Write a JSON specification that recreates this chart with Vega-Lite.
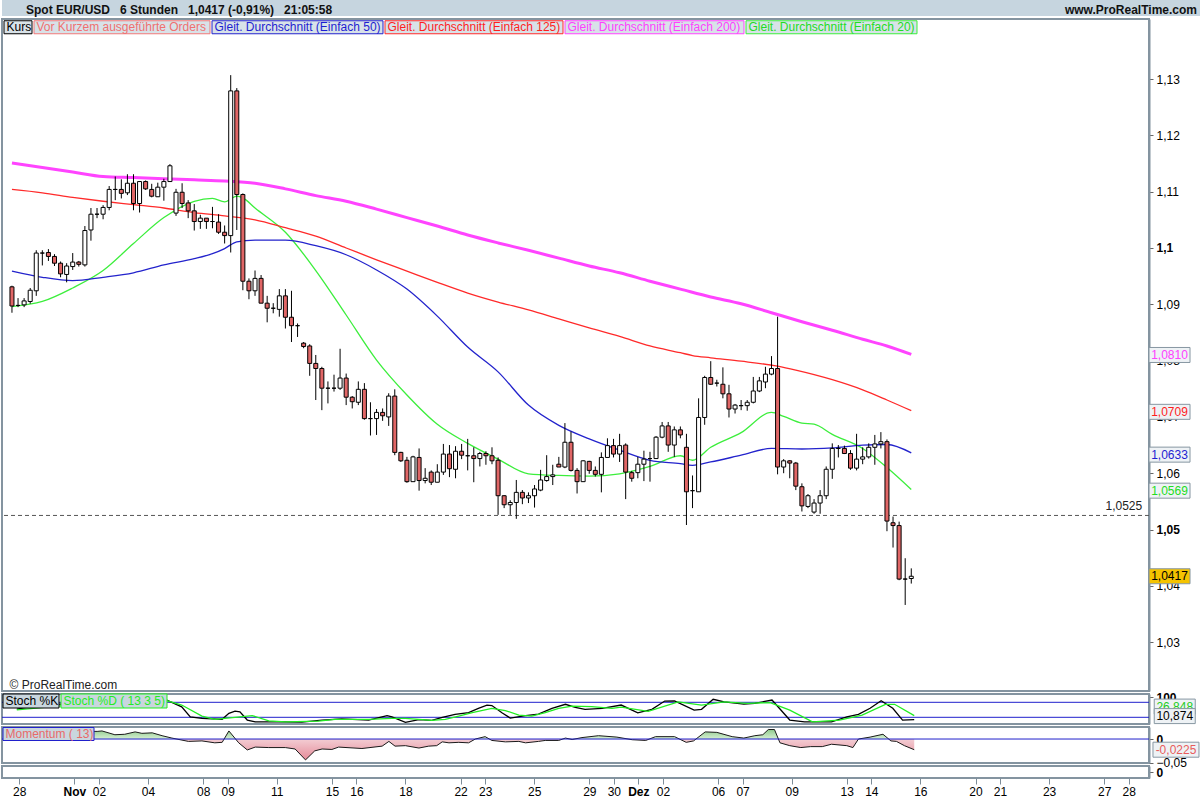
{
  "$schema": "https://vega.github.io/schema/vega-lite/v6.json",
  "padding": 0,
  "background": "white",
  "spacing": 3,
  "bounds": "flush",
  "resolve": {"scale": {"x": "independent", "y": "independent", "color": "independent", "fill": "independent"}, "legend": {"color": "independent"}, "axis": {"x": "independent", "y": "independent"}},
  "config": {
    "font": "Liberation Sans",
    "axis": {"labelFont": "Liberation Sans", "labelFontSize": 12, "labelColor": "#000000", "grid": false, "domainColor": "#8494a0", "domainWidth": 2, "tickColor": "#666666", "tickSize": 4, "labelPadding": 3, "labelOverlap": false, "labelFlush": false},
    "legend": {"labelFont": "Liberation Sans"}
  },
  "datasets": {
    "title": [
      {"side": "l", "t": "Spot EUR/USD\u00a0\u00a0 6 Stunden\u00a0\u00a0 1,0417 (-0,91%)\u00a0\u00a0 21:05:58"},
      {"side": "r", "t": "www.ProRealTime.com"}
    ],
    "candles": [
      {"i":0,"o":1.0931,"h":1.0933,"l":1.0885,"c":1.0897},
      {"i":1,"o":1.0898,"h":1.0911,"l":1.0895,"c":1.0898},
      {"i":2,"o":1.0899,"h":1.0911,"l":1.0895,"c":1.0906},
      {"i":3,"o":1.0905,"h":1.0929,"l":1.0901,"c":1.0925},
      {"i":4,"o":1.0924,"h":1.0996,"l":1.0915,"c":1.0991},
      {"i":5,"o":1.0991,"h":1.0996,"l":1.0969,"c":1.0991},
      {"i":6,"o":1.0992,"h":1.0998,"l":1.0977,"c":1.0985},
      {"i":7,"o":1.0985,"h":1.0989,"l":1.0968,"c":1.0973},
      {"i":8,"o":1.0973,"h":1.0976,"l":1.0948,"c":1.0954},
      {"i":9,"o":1.0953,"h":1.0973,"l":1.0939,"c":1.0968},
      {"i":10,"o":1.0967,"h":1.0991,"l":1.0961,"c":1.0975},
      {"i":11,"o":1.0975,"h":1.0977,"l":1.0967,"c":1.0971},
      {"i":12,"o":1.0970,"h":1.1039,"l":1.0967,"c":1.1031},
      {"i":13,"o":1.1032,"h":1.1071,"l":1.1013,"c":1.1060},
      {"i":14,"o":1.1060,"h":1.1071,"l":1.1053,"c":1.1060},
      {"i":15,"o":1.1060,"h":1.1076,"l":1.1051,"c":1.1072},
      {"i":16,"o":1.1072,"h":1.1110,"l":1.1067,"c":1.1104},
      {"i":17,"o":1.1104,"h":1.1127,"l":1.1085,"c":1.1104},
      {"i":18,"o":1.1104,"h":1.1122,"l":1.1088,"c":1.1097},
      {"i":19,"o":1.1098,"h":1.1131,"l":1.1094,"c":1.1115},
      {"i":20,"o":1.1115,"h":1.1131,"l":1.1067,"c":1.1079},
      {"i":21,"o":1.1079,"h":1.1118,"l":1.1063,"c":1.1118},
      {"i":22,"o":1.1118,"h":1.1120,"l":1.1103,"c":1.1105},
      {"i":23,"o":1.1104,"h":1.1114,"l":1.1090,"c":1.1092},
      {"i":24,"o":1.1091,"h":1.1116,"l":1.1091,"c":1.1108},
      {"i":25,"o":1.1108,"h":1.1123,"l":1.1084,"c":1.1118},
      {"i":26,"o":1.1118,"h":1.1149,"l":1.1118,"c":1.1146},
      {"i":27,"o":1.1062,"h":1.1105,"l":1.1057,"c":1.1099},
      {"i":28,"o":1.1099,"h":1.1115,"l":1.1071,"c":1.1079},
      {"i":29,"o":1.1080,"h":1.1085,"l":1.1053,"c":1.1066},
      {"i":30,"o":1.1066,"h":1.1078,"l":1.1031,"c":1.1047},
      {"i":31,"o":1.1047,"h":1.1059,"l":1.1034,"c":1.1053},
      {"i":32,"o":1.1053,"h":1.1053,"l":1.1034,"c":1.1047},
      {"i":33,"o":1.1047,"h":1.1073,"l":1.1035,"c":1.1047},
      {"i":34,"o":1.1046,"h":1.1060,"l":1.1025,"c":1.1028},
      {"i":35,"o":1.1028,"h":1.1040,"l":1.1008,"c":1.1022},
      {"i":36,"o":1.1022,"h":1.1307,"l":1.0992,"c":1.1279},
      {"i":37,"o":1.1279,"h":1.1284,"l":1.1032,"c":1.1095},
      {"i":38,"o":1.1095,"h":1.1097,"l":1.0925,"c":1.0941},
      {"i":39,"o":1.0941,"h":1.0946,"l":1.0909,"c":1.0924},
      {"i":40,"o":1.0924,"h":1.0960,"l":1.0915,"c":1.0946},
      {"i":41,"o":1.0946,"h":1.0952,"l":1.0902,"c":1.0902},
      {"i":42,"o":1.0902,"h":1.0915,"l":1.0868,"c":1.0893},
      {"i":43,"o":1.0893,"h":1.0902,"l":1.0884,"c":1.0893},
      {"i":44,"o":1.0891,"h":1.0927,"l":1.0878,"c":1.0915},
      {"i":45,"o":1.0915,"h":1.0927,"l":1.0857,"c":1.0877},
      {"i":46,"o":1.0877,"h":1.0924,"l":1.0833,"c":1.0862},
      {"i":47,"o":1.0862,"h":1.0866,"l":1.0842,"c":1.0862},
      {"i":48,"o":1.0831,"h":1.0833,"l":1.0822,"c":1.0825},
      {"i":49,"o":1.0826,"h":1.0829,"l":1.0773,"c":1.0795},
      {"i":50,"o":1.0795,"h":1.0810,"l":1.0730,"c":1.0786},
      {"i":51,"o":1.0786,"h":1.0789,"l":1.0712,"c":1.0751},
      {"i":52,"o":1.0751,"h":1.0763,"l":1.0724,"c":1.0751},
      {"i":53,"o":1.0751,"h":1.0775,"l":1.0745,"c":1.0751},
      {"i":54,"o":1.0751,"h":1.0821,"l":1.0748,"c":1.0769},
      {"i":55,"o":1.0769,"h":1.0777,"l":1.0721,"c":1.0735},
      {"i":56,"o":1.0735,"h":1.0737,"l":1.0715,"c":1.0727},
      {"i":57,"o":1.0726,"h":1.0763,"l":1.0721,"c":1.0749},
      {"i":58,"o":1.0749,"h":1.0760,"l":1.0695,"c":1.0697},
      {"i":59,"o":1.0697,"h":1.0726,"l":1.0667,"c":1.0697},
      {"i":60,"o":1.0697,"h":1.0714,"l":1.0668,"c":1.0708},
      {"i":61,"o":1.0708,"h":1.0715,"l":1.0693,"c":1.0702},
      {"i":62,"o":1.0700,"h":1.0742,"l":1.0684,"c":1.0737},
      {"i":63,"o":1.0737,"h":1.0749,"l":1.0632,"c":1.0637},
      {"i":64,"o":1.0637,"h":1.0638,"l":1.0620,"c":1.0622},
      {"i":65,"o":1.0623,"h":1.0629,"l":1.0583,"c":1.0585},
      {"i":66,"o":1.0585,"h":1.0631,"l":1.0585,"c":1.0629},
      {"i":67,"o":1.0628,"h":1.0644,"l":1.0569,"c":1.0587},
      {"i":68,"o":1.0587,"h":1.0609,"l":1.0582,"c":1.0591},
      {"i":69,"o":1.0602,"h":1.0605,"l":1.0579,"c":1.0584},
      {"i":70,"o":1.0584,"h":1.0616,"l":1.0584,"c":1.0602},
      {"i":71,"o":1.0602,"h":1.0652,"l":1.0597,"c":1.0634},
      {"i":72,"o":1.0634,"h":1.0650,"l":1.0593,"c":1.0608},
      {"i":73,"o":1.0607,"h":1.0648,"l":1.0591,"c":1.0639},
      {"i":74,"o":1.0639,"h":1.0652,"l":1.0625,"c":1.0632},
      {"i":75,"o":1.0631,"h":1.0661,"l":1.0605,"c":1.0631},
      {"i":76,"o":1.0631,"h":1.0646,"l":1.0584,"c":1.0626},
      {"i":77,"o":1.0626,"h":1.0638,"l":1.0612,"c":1.0635},
      {"i":78,"o":1.0635,"h":1.0639,"l":1.0615,"c":1.0631},
      {"i":79,"o":1.0631,"h":1.0646,"l":1.0616,"c":1.0622},
      {"i":80,"o":1.0623,"h":1.0628,"l":1.0526,"c":1.0560},
      {"i":81,"o":1.0560,"h":1.0561,"l":1.0538,"c":1.0544},
      {"i":82,"o":1.0544,"h":1.0552,"l":1.0526,"c":1.0548},
      {"i":83,"o":1.0548,"h":1.0588,"l":1.0519,"c":1.0566},
      {"i":84,"o":1.0566,"h":1.0570,"l":1.0545,"c":1.0556},
      {"i":85,"o":1.0556,"h":1.0566,"l":1.0547,"c":1.0560},
      {"i":86,"o":1.0560,"h":1.0579,"l":1.0539,"c":1.0572},
      {"i":87,"o":1.0570,"h":1.0606,"l":1.0568,"c":1.0588},
      {"i":88,"o":1.0587,"h":1.0632,"l":1.0585,"c":1.0594},
      {"i":89,"o":1.0594,"h":1.0615,"l":1.0579,"c":1.0597},
      {"i":90,"o":1.0616,"h":1.0629,"l":1.0611,"c":1.0611},
      {"i":91,"o":1.0611,"h":1.0689,"l":1.0609,"c":1.0655},
      {"i":92,"o":1.0655,"h":1.0674,"l":1.0603,"c":1.0605},
      {"i":93,"o":1.0605,"h":1.0609,"l":1.0564,"c":1.0585},
      {"i":94,"o":1.0585,"h":1.0623,"l":1.0585,"c":1.0622},
      {"i":95,"o":1.0621,"h":1.0622,"l":1.0599,"c":1.0605},
      {"i":96,"o":1.0605,"h":1.0612,"l":1.0594,"c":1.0598},
      {"i":97,"o":1.0598,"h":1.0637,"l":1.0566,"c":1.0628},
      {"i":98,"o":1.0628,"h":1.0662,"l":1.0628,"c":1.0649},
      {"i":99,"o":1.0649,"h":1.0661,"l":1.0628,"c":1.0634},
      {"i":100,"o":1.0634,"h":1.0670,"l":1.0620,"c":1.0649},
      {"i":101,"o":1.0650,"h":1.0653,"l":1.0554,"c":1.0602},
      {"i":102,"o":1.0601,"h":1.0604,"l":1.0585,"c":1.0591},
      {"i":103,"o":1.0601,"h":1.0629,"l":1.0591,"c":1.0616},
      {"i":104,"o":1.0616,"h":1.0640,"l":1.0586,"c":1.0625},
      {"i":105,"o":1.0626,"h":1.0638,"l":1.0585,"c":1.0626},
      {"i":106,"o":1.0626,"h":1.0666,"l":1.0626,"c":1.0664},
      {"i":107,"o":1.0664,"h":1.0691,"l":1.0662,"c":1.0684},
      {"i":108,"o":1.0684,"h":1.0691,"l":1.0638,"c":1.0650},
      {"i":109,"o":1.0650,"h":1.0683,"l":1.0629,"c":1.0677},
      {"i":110,"o":1.0677,"h":1.0683,"l":1.0662,"c":1.0668},
      {"i":111,"o":1.0646,"h":1.0670,"l":1.0508,"c":1.0567},
      {"i":112,"o":1.0569,"h":1.0596,"l":1.0538,"c":1.0569},
      {"i":113,"o":1.0567,"h":1.0733,"l":1.0567,"c":1.0699},
      {"i":114,"o":1.0699,"h":1.0773,"l":1.0686,"c":1.0770},
      {"i":115,"o":1.0770,"h":1.0799,"l":1.0757,"c":1.0758},
      {"i":116,"o":1.0760,"h":1.0766,"l":1.0754,"c":1.0760},
      {"i":117,"o":1.0758,"h":1.0788,"l":1.0733,"c":1.0741},
      {"i":118,"o":1.0741,"h":1.0757,"l":1.0699,"c":1.0714},
      {"i":119,"o":1.0714,"h":1.0723,"l":1.0706,"c":1.0721},
      {"i":120,"o":1.0720,"h":1.0730,"l":1.0712,"c":1.0720},
      {"i":121,"o":1.0720,"h":1.0730,"l":1.0711,"c":1.0726},
      {"i":122,"o":1.0726,"h":1.0771,"l":1.0724,"c":1.0746},
      {"i":123,"o":1.0746,"h":1.0771,"l":1.0744,"c":1.0764},
      {"i":124,"o":1.0762,"h":1.0789,"l":1.0751,"c":1.0776},
      {"i":125,"o":1.0776,"h":1.0808,"l":1.0774,"c":1.0786},
      {"i":126,"o":1.0786,"h":1.0878,"l":1.0598,"c":1.0611},
      {"i":127,"o":1.0611,"h":1.0625,"l":1.0600,"c":1.0622},
      {"i":128,"o":1.0622,"h":1.0623,"l":1.0591,"c":1.0618},
      {"i":129,"o":1.0618,"h":1.0620,"l":1.0570,"c":1.0577},
      {"i":130,"o":1.0576,"h":1.0582,"l":1.0532,"c":1.0542},
      {"i":131,"o":1.0541,"h":1.0563,"l":1.0538,"c":1.0560},
      {"i":132,"o":1.0531,"h":1.0554,"l":1.0528,"c":1.0547},
      {"i":133,"o":1.0547,"h":1.0570,"l":1.0528,"c":1.0560},
      {"i":134,"o":1.0560,"h":1.0612,"l":1.0554,"c":1.0607},
      {"i":135,"o":1.0607,"h":1.0653,"l":1.0590,"c":1.0644},
      {"i":136,"o":1.0644,"h":1.0650,"l":1.0628,"c":1.0644},
      {"i":137,"o":1.0644,"h":1.0649,"l":1.0634,"c":1.0635},
      {"i":138,"o":1.0635,"h":1.0641,"l":1.0606,"c":1.0609},
      {"i":139,"o":1.0609,"h":1.0670,"l":1.0605,"c":1.0625},
      {"i":140,"o":1.0625,"h":1.0646,"l":1.0616,"c":1.0629},
      {"i":141,"o":1.0629,"h":1.0653,"l":1.0626,"c":1.0646},
      {"i":142,"o":1.0646,"h":1.0668,"l":1.0615,"c":1.0652},
      {"i":143,"o":1.0652,"h":1.0673,"l":1.0644,"c":1.0656},
      {"i":144,"o":1.0656,"h":1.0660,"l":1.0497,"c":1.0515},
      {"i":145,"o":1.0512,"h":1.0523,"l":1.0468,"c":1.0507},
      {"i":146,"o":1.0507,"h":1.0514,"l":1.0410,"c":1.0412},
      {"i":147,"o":1.0412,"h":1.0449,"l":1.0366,"c":1.0412},
      {"i":148,"o":1.0413,"h":1.0431,"l":1.0404,"c":1.0417}
    ],
    "ma": [
      {"i":0,"s":"20","v":1.0896},{"i":5,"s":"20","v":1.0905},{"i":10,"s":"20","v":1.0929},{"i":15,"s":"20","v":1.0960},{"i":20,"s":"20","v":1.1008},{"i":25,"s":"20","v":1.1054},{"i":30,"s":"20","v":1.1083},{"i":33,"s":"20","v":1.1088},{"i":35,"s":"20","v":1.1082},{"i":37,"s":"20","v":1.1092},{"i":38,"s":"20","v":1.1089},{"i":40,"s":"20","v":1.1071},{"i":45,"s":"20","v":1.1028},{"i":50,"s":"20","v":1.0960},{"i":55,"s":"20","v":1.0881},{"i":60,"s":"20","v":1.0801},{"i":65,"s":"20","v":1.0739},{"i":70,"s":"20","v":1.0687},{"i":75,"s":"20","v":1.0653},{"i":80,"s":"20","v":1.0625},{"i":85,"s":"20","v":1.0599},{"i":90,"s":"20","v":1.0596},{"i":95,"s":"20","v":1.0595},{"i":100,"s":"20","v":1.0599},{"i":105,"s":"20","v":1.0612},{"i":110,"s":"20","v":1.0631},{"i":112,"s":"20","v":1.0623},{"i":115,"s":"20","v":1.0646},{"i":120,"s":"20","v":1.0672},{"i":125,"s":"20","v":1.0708},{"i":127,"s":"20","v":1.0701},{"i":130,"s":"20","v":1.0689},{"i":132,"s":"20","v":1.0687},{"i":135,"s":"20","v":1.0669},{"i":140,"s":"20","v":1.0644},{"i":144,"s":"20","v":1.0610},{"i":148,"s":"20","v":1.0571},
      {"i":0,"s":"50","v":1.0959},{"i":5,"s":"50","v":1.0948},{"i":10,"s":"50","v":1.0942},{"i":15,"s":"50","v":1.0948},{"i":20,"s":"50","v":1.0956},{"i":25,"s":"50","v":1.0970},{"i":30,"s":"50","v":1.0981},{"i":33,"s":"50","v":1.0990},{"i":35,"s":"50","v":1.0999},{"i":37,"s":"50","v":1.1011},{"i":40,"s":"50","v":1.1014},{"i":45,"s":"50","v":1.1014},{"i":50,"s":"50","v":1.1004},{"i":55,"s":"50","v":1.0988},{"i":60,"s":"50","v":1.0961},{"i":65,"s":"50","v":1.0927},{"i":70,"s":"50","v":1.0879},{"i":75,"s":"50","v":1.0824},{"i":80,"s":"50","v":1.0780},{"i":85,"s":"50","v":1.0721},{"i":90,"s":"50","v":1.0685},{"i":95,"s":"50","v":1.0661},{"i":100,"s":"50","v":1.0641},{"i":105,"s":"50","v":1.0623},{"i":110,"s":"50","v":1.0617},{"i":112,"s":"50","v":1.0614},{"i":115,"s":"50","v":1.0620},{"i":120,"s":"50","v":1.0632},{"i":125,"s":"50","v":1.0644},{"i":130,"s":"50","v":1.0643},{"i":135,"s":"50","v":1.0645},{"i":140,"s":"50","v":1.0650},{"i":144,"s":"50","v":1.0651},{"i":148,"s":"50","v":1.0636},
      {"i":0,"s":"125","v":1.1104},{"i":5,"s":"125","v":1.1098},{"i":10,"s":"125","v":1.1090},{"i":15,"s":"125","v":1.1083},{"i":20,"s":"125","v":1.1077},{"i":25,"s":"125","v":1.1071},{"i":30,"s":"125","v":1.1063},{"i":35,"s":"125","v":1.1057},{"i":40,"s":"125","v":1.1050},{"i":45,"s":"125","v":1.1036},{"i":50,"s":"125","v":1.1021},{"i":55,"s":"125","v":1.1000},{"i":60,"s":"125","v":1.0979},{"i":65,"s":"125","v":1.0959},{"i":70,"s":"125","v":1.0939},{"i":75,"s":"125","v":1.0920},{"i":80,"s":"125","v":1.0904},{"i":85,"s":"125","v":1.0890},{"i":90,"s":"125","v":1.0874},{"i":95,"s":"125","v":1.0858},{"i":100,"s":"125","v":1.0843},{"i":105,"s":"125","v":1.0826},{"i":110,"s":"125","v":1.0814},{"i":112,"s":"125","v":1.0809},{"i":115,"s":"125","v":1.0805},{"i":120,"s":"125","v":1.0799},{"i":126,"s":"125","v":1.0790},{"i":129,"s":"125","v":1.0783},{"i":135,"s":"125","v":1.0766},{"i":140,"s":"125","v":1.0748},{"i":144,"s":"125","v":1.0730},{"i":148,"s":"125","v":1.0711},
      {"i":0,"s":"200","v":1.1151},{"i":5,"s":"200","v":1.1143},{"i":10,"s":"200","v":1.1135},{"i":15,"s":"200","v":1.1127},{"i":20,"s":"200","v":1.1125},{"i":25,"s":"200","v":1.1123},{"i":30,"s":"200","v":1.1121},{"i":35,"s":"200","v":1.1119},{"i":40,"s":"200","v":1.1115},{"i":45,"s":"200","v":1.1105},{"i":50,"s":"200","v":1.1093},{"i":55,"s":"200","v":1.1083},{"i":60,"s":"200","v":1.1069},{"i":65,"s":"200","v":1.1054},{"i":70,"s":"200","v":1.1039},{"i":75,"s":"200","v":1.1023},{"i":80,"s":"200","v":1.1009},{"i":85,"s":"200","v":1.0996},{"i":90,"s":"200","v":1.0982},{"i":95,"s":"200","v":1.0968},{"i":100,"s":"200","v":1.0956},{"i":105,"s":"200","v":1.0941},{"i":110,"s":"200","v":1.0927},{"i":115,"s":"200","v":1.0913},{"i":120,"s":"200","v":1.0901},{"i":125,"s":"200","v":1.0885},{"i":130,"s":"200","v":1.0869},{"i":135,"s":"200","v":1.0854},{"i":140,"s":"200","v":1.0838},{"i":144,"s":"200","v":1.0826},{"i":148,"s":"200","v":1.0811}
    ],
    "lastMain": [
      {"s":"200","v":1.0810,"t":"1,0810"},
      {"s":"125","v":1.0709,"t":"1,0709"},
      {"s":"50","v":1.0633,"t":"1,0633"},
      {"s":"20","v":1.0569,"t":"1,0569"},
      {"s":"Kurs","v":1.0417,"t":"1,0417"}
    ],
    "stoch": [
      {"i":1.6,"s":"K","v":53},{"i":5.7,"s":"K","v":70},{"i":10.6,"s":"K","v":75},{"i":15.5,"s":"K","v":90},{"i":20.4,"s":"K","v":88},{"i":25.8,"s":"K","v":92},{"i":28.5,"s":"K","v":62},{"i":29.9,"s":"K","v":22},{"i":31.8,"s":"K","v":16},{"i":35.1,"s":"K","v":12},{"i":36.2,"s":"K","v":36},{"i":37.2,"s":"K","v":45},{"i":38,"s":"K","v":42},{"i":39.2,"s":"K","v":9},{"i":40.5,"s":"K","v":2},{"i":44.3,"s":"K","v":2},{"i":48.1,"s":"K","v":1},{"i":51.4,"s":"K","v":9},{"i":54.6,"s":"K","v":14},{"i":59,"s":"K","v":9},{"i":62,"s":"K","v":27},{"i":62.8,"s":"K","v":22},{"i":65,"s":"K","v":0},{"i":67.2,"s":"K","v":11},{"i":69.3,"s":"K","v":8},{"i":71,"s":"K","v":20},{"i":73.1,"s":"K","v":32},{"i":75.3,"s":"K","v":39},{"i":76.9,"s":"K","v":56},{"i":78.3,"s":"K","v":69},{"i":79.1,"s":"K","v":67},{"i":80.8,"s":"K","v":37},{"i":82.1,"s":"K","v":17},{"i":84.6,"s":"K","v":27},{"i":86.7,"s":"K","v":33},{"i":88.9,"s":"K","v":56},{"i":91.1,"s":"K","v":72},{"i":92.7,"s":"K","v":60},{"i":94.3,"s":"K","v":52},{"i":97.1,"s":"K","v":56},{"i":100.2,"s":"K","v":69},{"i":102.9,"s":"K","v":38},{"i":105.2,"s":"K","v":52},{"i":107.3,"s":"K","v":85},{"i":108.9,"s":"K","v":86},{"i":112.1,"s":"K","v":49},{"i":113.3,"s":"K","v":52},{"i":115.2,"s":"K","v":92},{"i":117,"s":"K","v":82},{"i":120.2,"s":"K","v":73},{"i":122,"s":"K","v":76},{"i":124.8,"s":"K","v":89},{"i":127.7,"s":"K","v":9},{"i":130.1,"s":"K","v":2},{"i":134.5,"s":"K","v":2},{"i":137,"s":"K","v":22},{"i":138.9,"s":"K","v":32},{"i":140.8,"s":"K","v":56},{"i":142.6,"s":"K","v":86},{"i":144.5,"s":"K","v":56},{"i":146.1,"s":"K","v":9},{"i":148,"s":"K","v":10.874},
      {"i":1.6,"s":"D","v":50},{"i":10.6,"s":"D","v":70},{"i":20.4,"s":"D","v":85},{"i":25.8,"s":"D","v":89},{"i":28.5,"s":"D","v":69},{"i":31.8,"s":"D","v":25},{"i":33.9,"s":"D","v":12},{"i":37.2,"s":"D","v":20},{"i":40,"s":"D","v":27},{"i":42.7,"s":"D","v":6},{"i":45.4,"s":"D","v":2},{"i":50.8,"s":"D","v":5},{"i":53.5,"s":"D","v":12},{"i":59,"s":"D","v":12},{"i":62.8,"s":"D","v":16},{"i":65,"s":"D","v":16},{"i":67.2,"s":"D","v":12},{"i":69.3,"s":"D","v":8},{"i":71.5,"s":"D","v":12},{"i":73.7,"s":"D","v":25},{"i":75.9,"s":"D","v":39},{"i":79.1,"s":"D","v":56},{"i":81.3,"s":"D","v":47},{"i":83.5,"s":"D","v":29},{"i":85.6,"s":"D","v":25},{"i":87.8,"s":"D","v":39},{"i":90,"s":"D","v":56},{"i":92.2,"s":"D","v":65},{"i":95.4,"s":"D","v":63},{"i":98.7,"s":"D","v":56},{"i":100.2,"s":"D","v":61},{"i":104.6,"s":"D","v":44},{"i":109.5,"s":"D","v":82},{"i":113.3,"s":"D","v":69},{"i":117,"s":"D","v":82},{"i":120.8,"s":"D","v":76},{"i":124.5,"s":"D","v":79},{"i":127.7,"s":"D","v":49},{"i":131.4,"s":"D","v":2},{"i":135.8,"s":"D","v":9},{"i":139.5,"s":"D","v":29},{"i":143.3,"s":"D","v":72},{"i":144.8,"s":"D","v":72},{"i":148,"s":"D","v":26.848}
    ],
    "stochLast": [
      {"s":"D","v":26.848,"t":"26,848"},
      {"s":"K","v":10.874,"t":"10,874"}
    ],
    "mom": [
      {"i":0,"v":0.012},{"i":7.3,"v":0.018},{"i":14.7,"v":0.016},{"i":15.5,"v":0.017},{"i":17.6,"v":0.009},{"i":19.2,"v":0.010},{"i":20.9,"v":0.015},{"i":22,"v":0.012},{"i":23.7,"v":0.013},{"i":25.3,"v":0.007},{"i":26.9,"v":0.002},{"i":29.6,"v":-0.005},{"i":31.8,"v":-0.004},{"i":33.9,"v":-0.008},{"i":35.1,"v":-0.007},{"i":36.2,"v":0.017},{"i":37.8,"v":-0.008},{"i":39.2,"v":-0.023},{"i":40.5,"v":-0.017},{"i":42.7,"v":-0.018},{"i":45.4,"v":-0.018},{"i":47,"v":-0.021},{"i":48.7,"v":-0.044},{"i":50.2,"v":-0.025},{"i":51.4,"v":-0.021},{"i":53,"v":-0.022},{"i":54.1,"v":-0.017},{"i":57.9,"v":-0.020},{"i":61.2,"v":-0.015},{"i":62.3,"v":-0.005},{"i":63.3,"v":-0.015},{"i":65,"v":-0.014},{"i":67.2,"v":-0.019},{"i":68.8,"v":-0.015},{"i":70.1,"v":-0.014},{"i":71,"v":-0.006},{"i":72.1,"v":-0.008},{"i":73.7,"v":-0.007},{"i":75.3,"v":-0.008},{"i":76.4,"v":0},{"i":78,"v":0.005},{"i":79.1,"v":-0.003},{"i":81.3,"v":-0.006},{"i":83.5,"v":-0.005},{"i":84.6,"v":-0.008},{"i":86.7,"v":-0.005},{"i":87.8,"v":-0.003},{"i":90,"v":-0.003},{"i":91.1,"v":0.002},{"i":92.2,"v":-0.001},{"i":93.8,"v":0.003},{"i":96.5,"v":0.007},{"i":99.5,"v":0.004},{"i":102,"v":-0.0015},{"i":104.2,"v":-0.003},{"i":105.8,"v":0.005},{"i":108.9,"v":0.005},{"i":110.8,"v":-0.007},{"i":112,"v":-0.004},{"i":113.9,"v":0.015},{"i":115.8,"v":0.014},{"i":118.3,"v":0.005},{"i":120.2,"v":0.002},{"i":122,"v":0.007},{"i":123.3,"v":0.009},{"i":124.2,"v":0.020},{"i":125.2,"v":0.020},{"i":126.1,"v":-0.008},{"i":127.7,"v":-0.014},{"i":129.5,"v":-0.018},{"i":131.1,"v":-0.016},{"i":133,"v":-0.016},{"i":134.5,"v":-0.011},{"i":137,"v":-0.014},{"i":138,"v":-0.018},{"i":138.9,"v":0},{"i":140.8,"v":0.004},{"i":142.9,"v":0.010},{"i":144.2,"v":-0.004},{"i":145.1,"v":-0.005},{"i":146.4,"v":-0.014},{"i":148,"v":-0.0225}
    ],
    "momLast": [{"s":"M","v":-0.0225,"t":"-0,0225"}]
  },
  "vconcat": [
    {
      "width": 1200,
      "height": 16,
      "view": {"fill": "#c6d5df", "stroke": null},
      "data": {"name": "title"},
      "layer": [
        {
          "transform": [{"filter": "datum.side == 'l'"}],
          "mark": {"type": "text", "align": "left", "baseline": "middle", "fontSize": 12, "fontWeight": "bold", "font": "Liberation Sans", "color": "#111111", "dy": 2},
          "encoding": {
            "x": {"field": "side", "type": "nominal", "scale": {"type": "point", "domain": ["l", "r"], "range": [24, 1195], "padding": 0}, "axis": null},
            "text": {"field": "t"}
          }
        },
        {
          "transform": [{"filter": "datum.side == 'r'"}],
          "mark": {"type": "text", "align": "right", "baseline": "middle", "fontSize": 12, "fontWeight": "bold", "font": "Liberation Sans", "color": "#111111", "dy": 2},
          "encoding": {
            "x": {"field": "side", "type": "nominal", "scale": {"type": "point", "domain": ["l", "r"], "range": [24, 1195], "padding": 0}, "axis": null},
            "text": {"field": "t"}
          }
        }
      ]
    },
    {
      "width": 1147,
      "height": 672,
      "view": {"stroke": "#8494a0", "strokeWidth": 2},
      "layer": [
        {
          "data": {"name": "ma"},
          "mark": {"type": "line", "interpolate": "monotone"},
          "encoding": {
            "x": {"field": "i", "type": "quantitative", "scale": {"domain": [-0.816, 186.3], "nice": false, "zero": false}, "axis": null},
            "y": {"field": "v", "type": "quantitative", "scale": {"domain": [1.02132, 1.14067], "nice": false, "zero": false},
              "axis": {"orient": "right", "title": null, "values": [1.03, 1.04, 1.05, 1.06, 1.07, 1.08, 1.09, 1.1, 1.11, 1.12, 1.13],
                "labelExpr": "replace(format(datum.value, '.2~f'), '.', ',')",
                "labelFontWeight": {"condition": {"test": "abs(datum.value - 1.1) < 0.0001 || abs(datum.value - 1.05) < 0.0001", "value": "bold"}, "value": "normal"}}},
            "color": {"field": "s", "type": "nominal",
              "scale": {"domain": ["Kurs", "Orders", "50", "125", "200", "20"], "range": ["#000000", "#f07878", "#2323cc", "#ff2a2a", "#ff44ff", "#3cee3c"]},
              "legend": {
                "orient": "top-left", "direction": "horizontal", "columns": 6, "title": null, "offset": 2, "padding": 0,
                "columnPadding": -2.5, "labelFontSize": 12, "labelFont": "Liberation Sans", "labelOffset": -9.5, "labelLimit": 400,
                "symbolSize": 4, "zindex": 1,
                "labelExpr": "datum.label == 'Kurs' ? 'Kurs' : datum.label == 'Orders' ? 'Vor Kurzem ausgeführte Orders' : 'Gleit. Durchschnitt (Einfach ' + datum.label + ')'",
                "encode": {
                  "symbols": {"update": {
                    "shape": {"signal": "datum.value == 'Kurs' ? 'M-6,-6.5H22V6.5H-6Z' : datum.value == 'Orders' ? 'M-6,-6.5H170V6.5H-6Z' : datum.value == '50' ? 'M-6,-6.5H165V6.5H-6Z' : datum.value == '125' ? 'M-6,-6.5H172V6.5H-6Z' : datum.value == '200' ? 'M-6,-6.5H173V6.5H-6Z' : 'M-6,-6.5H165V6.5H-6Z'"},
                    "size": {"value": 4}, "fill": {"value": "#d8e2e8"}, "stroke": {"value": "#8a9aa6"}, "strokeWidth": {"value": 1},
                    "opacity": {"value": 1}, "fillOpacity": {"value": 1}, "strokeOpacity": {"value": 1}}},
                  "labels": {"update": {"fill": {"signal": "datum.value == 'Kurs' ? '#000000' : datum.value == 'Orders' ? '#f07070' : datum.value == '50' ? '#1e1ed2' : datum.value == '125' ? '#ff1e1e' : datum.value == '200' ? '#ff40ff' : '#22dd22'"}}}
                }
              }
            },
            "strokeWidth": {"condition": {"test": "datum.s == '200'", "value": 3}, "value": 1.3}
          }
        },
        {
          "data": {"values": [{}]},
          "mark": {"type": "rule", "color": "#555555", "strokeDash": [4, 3], "strokeWidth": 1},
          "encoding": {"y": {"datum": 1.0525, "type": "quantitative"}}
        },
        {
          "data": {"values": [{}]},
          "mark": {"type": "text", "align": "right", "baseline": "bottom", "fontSize": 12, "color": "#222222", "dy": -2},
          "encoding": {"x": {"datum": 186.0, "type": "quantitative", "axis": null}, "y": {"datum": 1.0525, "type": "quantitative"}, "text": {"value": "1,0525"}}
        },
        {
          "data": {"values": [{}]},
          "mark": {"type": "text", "align": "left", "baseline": "middle", "fontSize": 12, "color": "#222222"},
          "encoding": {"x": {"datum": -0.4, "type": "quantitative", "axis": null}, "y": {"datum": 1.0224, "type": "quantitative"}, "text": {"value": "© ProRealTime.com"}}
        },
        {
          "data": {"name": "candles"},
          "mark": {"type": "rule", "color": "#000000", "strokeWidth": 1},
          "encoding": {
            "x": {"field": "i", "type": "quantitative", "axis": null},
            "y": {"field": "l", "type": "quantitative"},
            "y2": {"field": "h"}
          }
        },
        {
          "data": {"name": "candles"},
          "mark": {"type": "bar", "size": 4, "stroke": "#000000", "strokeWidth": 1},
          "encoding": {
            "x": {"field": "i", "type": "quantitative", "axis": null},
            "y": {"field": "o", "type": "quantitative"},
            "y2": {"field": "c"},
            "color": {"condition": {"test": "datum.c < datum.o", "value": "#e06666"}, "value": "#ffffff"}
          }
        },
        {
          "data": {"name": "lastMain"},
          "mark": {"type": "point", "filled": true, "shape": "M-20.5,-7.5H20.5V7.5H-20.5Z", "size": 4, "stroke": "#8797a2", "strokeWidth": 1, "opacity": 1},
          "encoding": {
            "x": {"datum": 190.5, "type": "quantitative", "axis": null},
            "y": {"field": "v", "type": "quantitative"},
            "fill": {"condition": {"test": "datum.s == 'Kurs'", "value": "#f5c300"}, "value": "#eef2f5"}
          }
        },
        {
          "data": {"name": "lastMain"},
          "mark": {"type": "text", "align": "center", "baseline": "middle", "fontSize": 12},
          "encoding": {
            "x": {"datum": 190.5, "type": "quantitative", "axis": null},
            "y": {"field": "v", "type": "quantitative"},
            "text": {"field": "t"},
            "fill": {"field": "s", "type": "nominal", "scale": {"domain": ["Kurs", "50", "125", "200", "20"], "range": ["#000000", "#1e1ed2", "#ff1e1e", "#ff40ff", "#22dd22"]}, "legend": null}
          }
        }
      ]
    },
    {
      "width": 1147,
      "height": 30,
      "view": {"stroke": "#8494a0", "strokeWidth": 2},
      "layer": [
        {
          "data": {"values": [{}]},
          "mark": {"type": "rule", "color": "#2020cc", "strokeWidth": 1},
          "encoding": {"y": {"datum": 80, "type": "quantitative", "scale": {"domain": [-6.8, 113.2], "nice": false, "zero": false},
            "axis": {"orient": "right", "title": null, "values": [100], "labelFontWeight": "bold"}}}
        },
        {
          "data": {"values": [{}]},
          "mark": {"type": "rule", "color": "#2020cc", "strokeWidth": 1},
          "encoding": {"y": {"datum": 20, "type": "quantitative"}}
        },
        {
          "data": {"name": "stoch"},
          "mark": {"type": "line", "strokeWidth": 1.3},
          "encoding": {
            "x": {"field": "i", "type": "quantitative", "scale": {"domain": [-0.816, 186.3], "nice": false, "zero": false}, "axis": null},
            "y": {"field": "v", "type": "quantitative"},
            "color": {"field": "s", "type": "nominal", "scale": {"domain": ["K", "D"], "range": ["#000000", "#22ee22"]},
              "legend": {
                "orient": "top-left", "direction": "horizontal", "columns": 2, "title": null, "offset": 1, "padding": 0,
                "columnPadding": -2.5, "labelFontSize": 12, "labelFont": "Liberation Sans", "labelOffset": -9.5, "labelLimit": 400,
                "symbolSize": 4, "zindex": 1,
                "labelExpr": "datum.label == 'K' ? 'Stoch %K' : 'Stoch %D ( 13 3 5)'",
                "encode": {
                  "symbols": {"update": {
                    "shape": {"signal": "datum.value == 'K' ? 'M-6,-7H50V7H-6Z' : 'M-6,-7H100V7H-6Z'"},
                    "size": {"value": 4}, "fill": {"value": "#c9d6de"}, "stroke": {"value": "#7f909c"}, "strokeWidth": {"value": 1},
                    "opacity": {"value": 1}, "fillOpacity": {"value": 1}, "strokeOpacity": {"value": 1}}},
                  "labels": {"update": {"fill": {"signal": "datum.value == 'K' ? '#000000' : '#22ee22'"}}}
                }
              }
            }
          }
        },
        {
          "data": {"name": "stochLast"},
          "transform": [{"filter": "datum.s == 'D'"}],
          "mark": {"type": "point", "filled": true, "shape": "M-20.5,-16.5H20.5V-1.5H-20.5Z", "size": 4, "stroke": "#8797a2", "strokeWidth": 1, "opacity": 1, "color": "#eef2f5"},
          "encoding": {"x": {"datum": 190.5, "type": "quantitative", "axis": null}, "y": {"field": "v", "type": "quantitative"}}
        },
        {
          "data": {"name": "stochLast"},
          "transform": [{"filter": "datum.s == 'D'"}],
          "mark": {"type": "text", "align": "center", "baseline": "middle", "fontSize": 12, "color": "#22cc22", "dy": -9},
          "encoding": {"x": {"datum": 190.5, "type": "quantitative", "axis": null}, "y": {"field": "v", "type": "quantitative"}, "text": {"field": "t"}}
        },
        {
          "data": {"name": "stochLast"},
          "transform": [{"filter": "datum.s == 'K'"}],
          "mark": {"type": "point", "filled": true, "shape": "M-20.5,-11H20.5V4H-20.5Z", "size": 4, "stroke": "#8797a2", "strokeWidth": 1, "opacity": 1, "color": "#eef2f5"},
          "encoding": {"x": {"datum": 190.5, "type": "quantitative", "axis": null}, "y": {"field": "v", "type": "quantitative"}}
        },
        {
          "data": {"name": "stochLast"},
          "transform": [{"filter": "datum.s == 'K'"}],
          "mark": {"type": "text", "align": "center", "baseline": "middle", "fontSize": 12, "color": "#000000", "dy": -3.5},
          "encoding": {"x": {"datum": 190.5, "type": "quantitative", "axis": null}, "y": {"field": "v", "type": "quantitative"}, "text": {"field": "t"}}
        }
      ]
    },
    {
      "width": 1147,
      "height": 36,
      "view": {"stroke": "#8494a0", "strokeWidth": 2},
      "layer": [
        {
          "data": {"name": "mom"},
          "mark": {"type": "area", "fill": {"gradient": "linear", "x1": 0, "y1": 0, "x2": 0, "y2": 1, "stops": [
            {"offset": 0, "color": "#8fcc8c"}, {"offset": 0.31, "color": "#d6eed3"}, {"offset": 0.3125, "color": "#f3cdd3"}, {"offset": 1, "color": "#e58b99"}]}},
          "encoding": {
            "x": {"field": "i", "type": "quantitative", "scale": {"domain": [-0.816, 186.3], "nice": false, "zero": false}, "axis": null},
            "y": {"field": "v", "type": "quantitative", "scale": {"domain": [-0.0505, 0.0253], "nice": false, "zero": false},
              "axis": {"orient": "right", "title": null, "values": [0, -0.05], "labelExpr": "replace(format(datum.value, '.2~f'), '.', ',')",
                "labelFontWeight": {"condition": {"test": "datum.value == 0", "value": "bold"}, "value": "normal"}}},
            "y2": {"datum": 0}
          }
        },
        {
          "data": {"name": "mom"},
          "mark": {"type": "line", "color": "#1a1a1a", "strokeWidth": 1},
          "encoding": {
            "x": {"field": "i", "type": "quantitative", "axis": null},
            "y": {"field": "v", "type": "quantitative"}
          }
        },
        {
          "data": {"values": [{"s": "M", "v": 0}]},
          "mark": {"type": "rule", "strokeWidth": 1},
          "encoding": {
            "y": {"field": "v", "type": "quantitative"},
            "color": {"field": "s", "type": "nominal", "scale": {"domain": ["M"], "range": ["#2020cc"]},
              "legend": {
                "orient": "top-left", "direction": "horizontal", "title": null, "offset": 1, "padding": 0,
                "labelFontSize": 12, "labelFont": "Liberation Sans", "labelOffset": -9.5, "labelLimit": 400,
                "symbolSize": 4, "zindex": 1,
                "labelExpr": "'Momentum ( 13)'",
                "encode": {
                  "symbols": {"update": {
                    "shape": {"value": "M-6,-6.5H85V6.5H-6Z"},
                    "size": {"value": 4}, "fill": {"value": "#c9d6de"}, "stroke": {"value": "#7f909c"}, "strokeWidth": {"value": 1},
                    "opacity": {"value": 1}, "fillOpacity": {"value": 1}, "strokeOpacity": {"value": 1}}},
                  "labels": {"update": {"fill": {"value": "#e86a6a"}}}
                }
              }
            }
          }
        },
        {
          "data": {"name": "momLast"},
          "mark": {"type": "point", "filled": true, "shape": "M-23,-7.5H23V7.5H-23Z", "size": 4, "stroke": "#8797a2", "strokeWidth": 1, "opacity": 1, "color": "#eef2f5"},
          "encoding": {"x": {"datum": 190.7, "type": "quantitative", "axis": null}, "y": {"field": "v", "type": "quantitative"}}
        },
        {
          "data": {"name": "momLast"},
          "mark": {"type": "text", "align": "center", "baseline": "middle", "fontSize": 12, "color": "#e85c5c"},
          "encoding": {"x": {"datum": 190.7, "type": "quantitative", "axis": null}, "y": {"field": "v", "type": "quantitative"}, "text": {"field": "t"}}
        }
      ]
    },
    {
      "width": 1147,
      "height": 12,
      "view": {"stroke": "#8494a0", "strokeWidth": 2},
      "data": {"values": [{"i": 0, "v": 0}]},
      "mark": {"type": "point", "opacity": 0},
      "encoding": {
        "x": {"field": "i", "type": "quantitative", "scale": {"domain": [-0.816, 186.3], "nice": false, "zero": false},
          "axis": {"orient": "bottom", "title": null, "domain": false, "tickColor": "#7d8d99", "tickSize": 6, "labelPadding": 2,
            "values": [2, 11, 15, 23, 32, 36, 44, 53, 57, 65, 74, 78, 86, 95, 99, 103, 107, 116, 120, 128, 137, 141, 149, 158, 162, 170, 179, 183],
            "labelExpr": "['28','Nov','02','04','08','09','11','15','16','18','22','23','25','29','30','Dez','02','06','07','09','13','14','16','20','21','23','27','28'][indexof([2,11,15,23,32,36,44,53,57,65,74,78,86,95,99,103,107,116,120,128,137,141,149,158,162,170,179,183], datum.value)]",
            "labelFontWeight": {"condition": {"test": "datum.value == 11 || datum.value == 103", "value": "bold"}, "value": "normal"}}},
        "y": {"field": "v", "type": "quantitative", "scale": {"domain": [-1, 1], "nice": false, "zero": false},
          "axis": {"orient": "right", "title": null, "values": [0], "labelFontWeight": "bold"}}
      }
    }
  ]
}
